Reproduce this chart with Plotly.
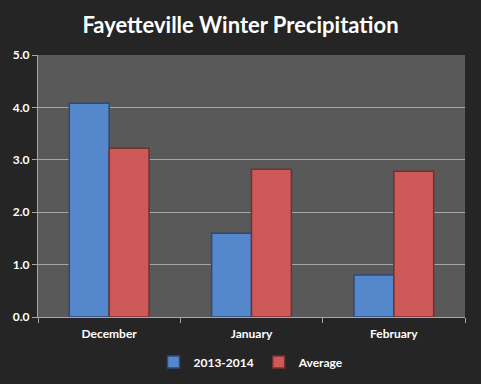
import plotly.graph_objects as go

categories = ["December", "January", "February"]
series_2013 = [4.08, 1.60, 0.80]
series_avg = [3.22, 2.82, 2.78]
y_ticks = [0, 1, 2, 3, 4, 5]
y_tick_labels = ["0.0", "1.0", "2.0", "3.0", "4.0", "5.0"]

FONT = "Lato, Open Sans, sans-serif"

fig = go.Figure()
fig.add_trace(go.Bar(x=categories, y=series_2013, name="<b>2013-2014</b>",
                     marker=dict(color="#5587cc", line=dict(color="#2c4a74", width=1.5))))
fig.add_trace(go.Bar(x=categories, y=series_avg, name="<b>Average</b>",
                     marker=dict(color="#cd5959", line=dict(color="#733030", width=1.5))))

fig.update_layout(
    width=481, height=384,
    paper_bgcolor="#252525", plot_bgcolor="#595959",
    margin=dict(l=38, r=16, t=55, b=67, autoexpand=False),
    title=dict(text="<b>Fayetteville Winter Precipitation</b>", x=0.5, xanchor="center",
               y=1 - 25 / 384, yanchor="middle",
               font=dict(family=FONT, size=22, color="white")),
    barmode="group", bargap=0.44, bargroupgap=0.0,
    font=dict(family=FONT, color="white", size=11),
    showlegend=True,
    legend=dict(orientation="h", x=0.5, xanchor="center", y=1 - 362 / 384,
                yref="container", yanchor="middle", itemwidth=30,
                font=dict(size=12, color="white", family=FONT), traceorder="normal"),
    xaxis=dict(showgrid=False, showline=True, linecolor="#a6a6a6", ticks="outside",
               tickson="boundaries", tickcolor="#a6a6a6", ticklen=5,
               ticklabelstandoff=6, automargin=False,
               tickvals=categories, ticktext=["<b>%s</b>" % c for c in categories],
               tickfont=dict(size=12, color="white", family=FONT)),
    yaxis=dict(range=[0, 5], tickvals=y_ticks, ticktext=["<b>%s</b>" % t for t in y_tick_labels],
               showgrid=True, gridcolor="#a6a6a6", gridwidth=1, showline=True,
               linecolor="#a6a6a6", ticks="outside", tickcolor="#a6a6a6", ticklen=5,
               zeroline=False, automargin=False, tickfont=dict(size=12, color="white", family=FONT)),
)

fig.write_html("out.html", config={"displayModeBar": False},
               post_script="document.body.style.margin='0';document.body.style.background='#252525';")
